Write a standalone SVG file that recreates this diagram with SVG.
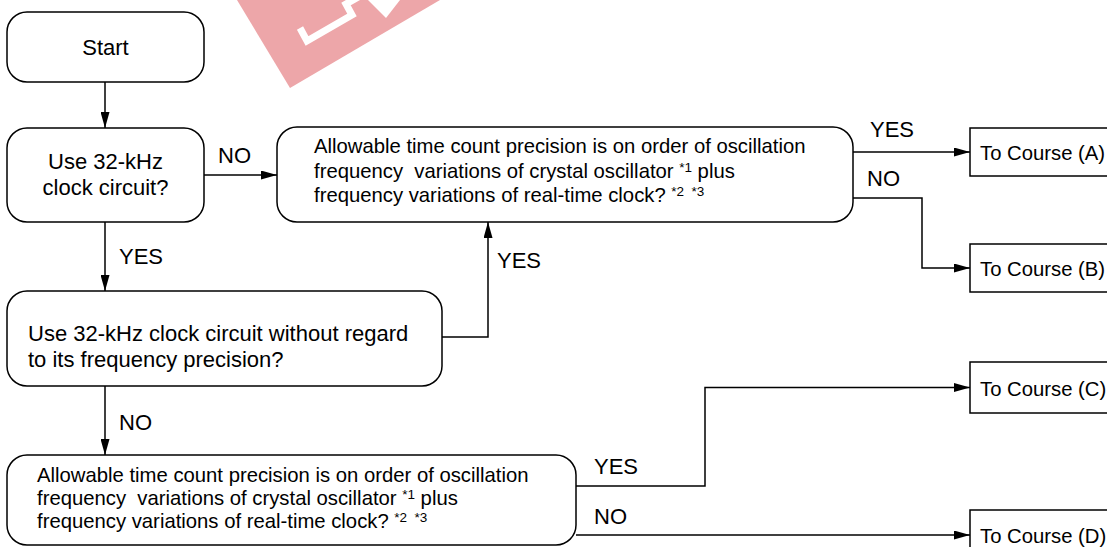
<svg xmlns="http://www.w3.org/2000/svg" width="1107" height="547" viewBox="0 0 1107 547">
<defs>
<style>
.box{fill:#fff;stroke:#000;stroke-width:1.5}
.t{font-family:"Liberation Sans",Arial,sans-serif;fill:#000}
.t22{font-size:22px}
.t20{font-size:20.3px}
.sup{font-size:13.5px}
.ln{fill:none;stroke:#000;stroke-width:1.5}
.arr{marker-end:url(#ah)}
</style>
<marker id="ah" viewBox="0 0 16 9" refX="16" refY="4.5" markerWidth="16" markerHeight="9" markerUnits="userSpaceOnUse" orient="auto">
<path d="M0,0 L16,4.5 L0,9 Z" fill="#000"/>
</marker>
</defs>
<rect width="1107" height="547" fill="#fff"/>
<g id="watermark">
<polygon points="237,0 290,88 440,0" fill="#eda6a9"/>
<polyline points="300,28 307,41 352,15 346,4 360,-4" fill="none" stroke="#fff" stroke-width="7"/>
<polygon points="368,0 400,0 386,18" fill="#fff"/>
</g>
<g id="connectors">
<line class="ln arr" x1="105" y1="82" x2="105" y2="128"/>
<line class="ln arr" x1="204" y1="175" x2="277" y2="175"/>
<line class="ln arr" x1="105" y1="222" x2="105" y2="291"/>
<polyline class="ln arr" points="442,337 488,337 488,222"/>
<line class="ln arr" x1="105" y1="386" x2="105" y2="455"/>
<line class="ln arr" x1="853" y1="152" x2="970" y2="152"/>
<polyline class="ln arr" points="853,198 922,198 922,268 970,268"/>
<polyline class="ln arr" points="576,486 705,486 705,387.5 970,387.5"/>
<line class="ln arr" x1="576" y1="535" x2="970" y2="535"/>
<text class="t t22" x="218" y="163">NO</text>
<text class="t t22" x="119" y="264">YES</text>
<text class="t t22" x="497" y="268">YES</text>
<text class="t t22" x="119" y="430">NO</text>
<text class="t t22" x="870" y="137">YES</text>
<text class="t t22" x="867" y="186">NO</text>
<text class="t t22" x="594" y="474">YES</text>
<text class="t t22" x="594" y="524">NO</text>
</g>
<g id="start">
<rect class="box" x="7" y="12" width="197" height="70" rx="20"/>
<text class="t t22" x="105.5" y="55" text-anchor="middle">Start</text>
</g>
<g id="use32k">
<rect class="box" x="7" y="128" width="197" height="94" rx="20"/>
<text class="t t22" x="105.5" y="169" text-anchor="middle">Use 32-kHz</text>
<text class="t t22" x="105.5" y="195" text-anchor="middle">clock circuit?</text>
</g>
<g id="precision1">
<rect class="box" x="277" y="127" width="576" height="95" rx="20"/>
<text class="t t20" x="314" y="153">Allowable time count precision is on order of oscillation</text>
<text class="t t20" x="314" y="178" xml:space="preserve">frequency  variations of crystal oscillator <tspan class="sup" dy="-6">*1</tspan><tspan dy="6"> plus</tspan></text>
<text class="t t20" x="314" y="202" xml:space="preserve">frequency variations of real-time clock? <tspan class="sup" dy="-6">*2  *3</tspan></text>
</g>
<g id="noregard">
<rect class="box" x="7" y="291" width="435" height="95" rx="20"/>
<text class="t t22" x="28" y="341">Use 32-kHz clock circuit without regard</text>
<text class="t t22" x="28" y="367">to its frequency precision?</text>
</g>
<g id="precision2">
<rect class="box" x="7" y="455" width="569" height="90" rx="20"/>
<text class="t t20" x="37" y="482">Allowable time count precision is on order of oscillation</text>
<text class="t t20" x="37" y="505" xml:space="preserve">frequency  variations of crystal oscillator <tspan class="sup" dy="-6">*1</tspan><tspan dy="6"> plus</tspan></text>
<text class="t t20" x="37" y="528" xml:space="preserve">frequency variations of real-time clock? <tspan class="sup" dy="-6">*2  *3</tspan></text>
</g>
<g id="courseA">
<rect class="box" x="970" y="128" width="160" height="48"/>
<text class="t t20" x="980" y="160">To Course (A)</text>
</g>
<g id="courseB">
<rect class="box" x="970" y="244" width="160" height="48"/>
<text class="t t20" x="980" y="276">To Course (B)</text>
</g>
<g id="courseC">
<rect class="box" x="970" y="362" width="160" height="51"/>
<text class="t t20" x="980" y="396">To Course (C)</text>
</g>
<g id="courseD">
<rect class="box" x="970" y="510" width="160" height="50"/>
<text class="t t20" x="980" y="543">To Course (D)</text>
</g>
</svg>
